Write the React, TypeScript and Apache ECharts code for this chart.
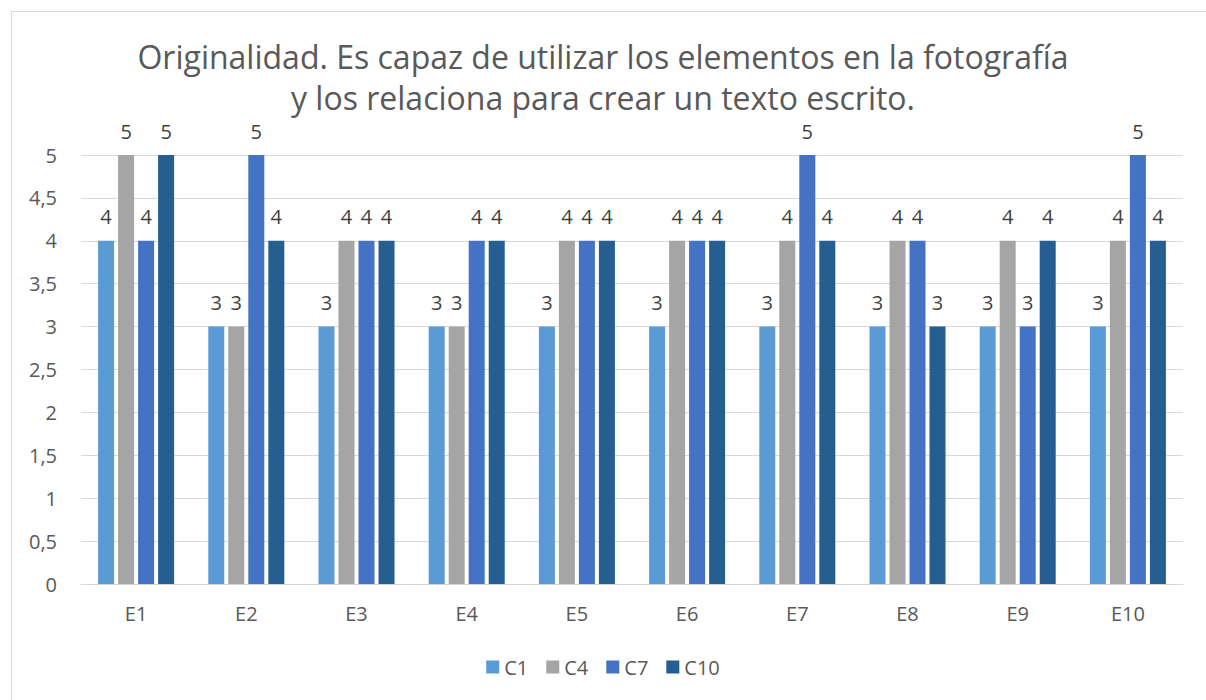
import React, { useEffect, useRef } from "react";
import * as echarts from "echarts";

const categories = ["E1", "E2", "E3", "E4", "E5", "E6", "E7", "E8", "E9", "E10"];
const seriesNames = ["C1", "C4", "C7", "C10"];
const c1 = [4, 3, 3, 3, 3, 3, 3, 3, 3, 3];
const c4 = [5, 3, 4, 3, 4, 4, 4, 4, 4, 4];
const c7 = [4, 5, 4, 4, 4, 4, 5, 4, 3, 5];
const c10 = [5, 4, 4, 4, 4, 4, 4, 3, 4, 4];
const colors = ["#5B9BD5", "#A5A5A5", "#4472C4", "#255E91"];
const titleText = "Originalidad. Es capaz de utilizar los elementos en la fotografía\ny los relaciona para crear un texto escrito.";

const FONT = "'Open Sans', sans-serif";

export default function App() {
  const ref = useRef<HTMLDivElement>(null);
  useEffect(() => {
    if (!ref.current) return;
    const chart = echarts.init(ref.current, undefined, { renderer: "svg" });
    const data = [c1, c4, c7, c10];
    chart.setOption({
      animation: false,
      backgroundColor: "#ffffff",
      textStyle: { fontFamily: FONT },
      title: {
        text: titleText,
        left: "center",
        top: 36,
        padding: 0,
        textStyle: {
          fontFamily: FONT,
          fontSize: 32,
          fontWeight: "normal",
          color: "#595959",
          lineHeight: 41,
        },
      },
      graphic: [
        {
          type: "rect",
          shape: { x: 11.5, y: 11.5, width: 1210, height: 710 },
          style: { fill: "none", stroke: "#D9D9D9", lineWidth: 1 },
          silent: true,
        },
      ],
      legend: {
        bottom: 18,
        left: "center",
        itemWidth: 13,
        itemHeight: 13,
        itemGap: 18,
        icon: "rect",
        textStyle: { fontFamily: FONT, fontSize: 20, color: "#595959" },
        data: seriesNames,
      },
      grid: { left: 81, right: 23, top: 155, bottom: 116, containLabel: false },
      xAxis: {
        type: "category",
        data: categories,
        axisLine: { lineStyle: { color: "#D9D9D9", width: 1 } },
        axisTick: { show: false },
        axisLabel: { fontFamily: FONT, fontSize: 20, color: "#595959", margin: 19 },
      },
      yAxis: {
        type: "value",
        min: 0,
        max: 5,
        interval: 0.5,
        axisLine: { show: false },
        axisTick: { show: false },
        splitLine: { lineStyle: { color: "#D9D9D9", width: 1 } },
        axisLabel: {
          fontFamily: FONT,
          fontSize: 20,
          color: "#595959",
          margin: 24,
          formatter: (v: number) => String(v).replace(".", ","),
        },
      },
      series: seriesNames.map((name, i) => ({
        name,
        type: "bar",
        data: data[i],
        itemStyle: { color: colors[i] },
        barGap: "25%",
        barCategoryGap: "31%",
        label: {
          show: true,
          position: "top",
          distance: 14,
          fontFamily: FONT,
          fontSize: 20,
          color: "#404040",
        },
      })),
    });
    return () => chart.dispose();
  }, []);
  return (
    <div
      ref={ref}
      style={{ position: "fixed", left: 0, top: 0, width: 1206, height: 700 }}
    />
  );
}
